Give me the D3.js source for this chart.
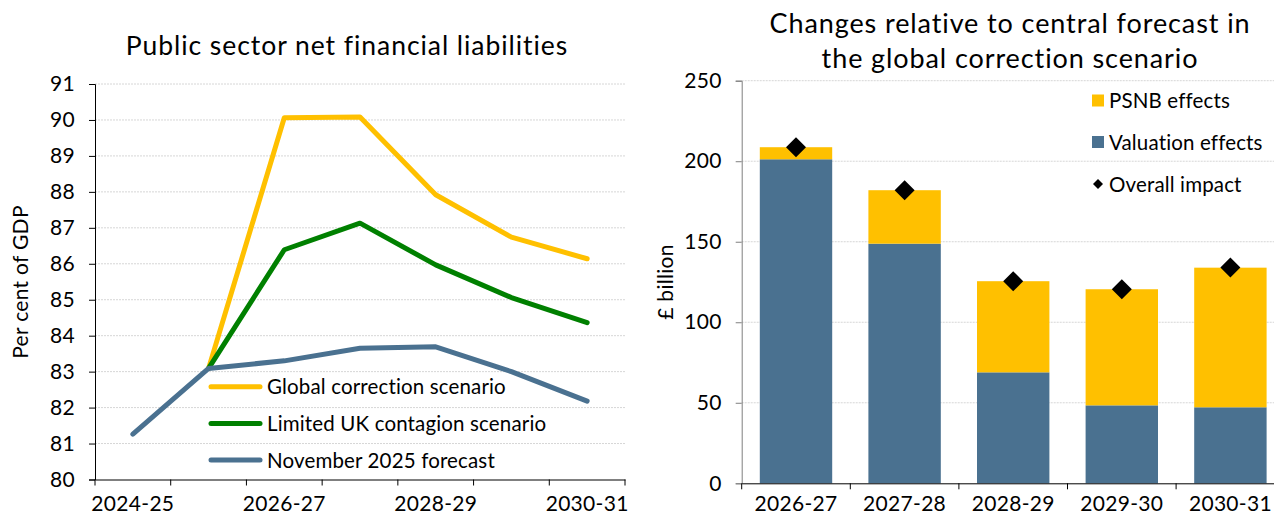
<!DOCTYPE html>
<html><head><meta charset="utf-8">
<script src="https://cdn.jsdelivr.net/npm/d3@7"></script>
<style>
html,body{margin:0;padding:0;background:#fff;}
svg{display:block;font-family:Lato,"Noto Sans",sans-serif;}
</style></head>
<body>
<svg id="c" width="1274" height="517"></svg>
<script>
// ---- Left chart data ----
const years = ["2024-25","2025-26","2026-27","2027-28","2028-29","2029-30","2030-31"];
const yearLabels = ["2024-25","2026-27","2028-29","2030-31"];
const globalCorrection = [null, 83.09, 90.06, 90.08, 87.92, 86.74, 86.14];
const limitedContagion = [null, 83.09, 86.39, 87.13, 85.97, 85.06, 84.36];
const november2025 = [81.26, 83.09, 83.30, 83.65, 83.69, 83.00, 82.18];
const leftTicks = [80,81,82,83,84,85,86,87,88,89,90,91];
const leftSeriesNames = ["Global correction scenario","Limited UK contagion scenario","November 2025 forecast"];

// ---- Right chart data ----
const barYears = ["2026-27","2027-28","2028-29","2029-30","2030-31"];
const valuationEffects = [201.2, 148.8, 68.9, 48.4, 47.2];
const psnbEffects = [7.5, 33.2, 56.6, 72.1, 86.7];
const overallImpact = [208.7, 182.0, 125.5, 120.5, 134.0];
const rightTicks = [0,50,100,150,200,250];
const rightLegendNames = ["PSNB effects","Valuation effects","Overall impact"];

const YEL = "#FFC000", GRN = "#008000", BLU = "#4A7190";
const svg = d3.select("#c");
const FS = 21;      // tick labels
const LFS = 20.5;   // legend text
const LS = "0.3px"; // letter spacing to approximate the wider original face
const XLAB_BASE = 511; // baseline of x tick labels

// ================= LEFT =================
const L = {x0:95, x1:625, yTop:84, yBot:479.5};
const xL = d3.scaleBand().domain(years).range([L.x0, L.x1]).padding(0);
const yL = d3.scaleLinear().domain([80,91]).range([L.yBot, L.yTop]);
const gL = svg.append("g");

gL.selectAll("line.grid").data(leftTicks.filter(d=>d>80)).join("line")
  .attr("x1", L.x0).attr("x2", L.x1).attr("y1", d=>yL(d)).attr("y2", d=>yL(d))
  .attr("stroke", "#d6d6d6").attr("stroke-width", 1).attr("stroke-dasharray", "2,1");

const yAxL = gL.append("g").attr("transform", `translate(${L.x0},0)`)
  .call(d3.axisLeft(yL).tickValues(leftTicks).tickSize(6).tickPadding(14).tickFormat(d3.format("d")));
yAxL.select(".domain").attr("stroke", "#000");
yAxL.selectAll(".tick line").attr("stroke", "#000");
yAxL.selectAll("text").attr("font-size", FS).attr("fill", "#000").attr("font-family", "Lato").attr("letter-spacing", LS);

const xAxL = gL.append("g").attr("transform", `translate(0,${L.yBot})`)
  .call(d3.axisBottom(xL).tickSize(0).tickFormat(d => yearLabels.includes(d) ? d : ""));
xAxL.select(".domain").attr("stroke", "#000");
xAxL.selectAll("text").attr("font-size", FS).attr("fill", "#000").attr("font-family", "Lato")
  .attr("letter-spacing", LS).attr("y", XLAB_BASE - L.yBot).attr("dy", 0);
const bL = years.map(d=>xL(d)).concat([xL(years[years.length-1]) + xL.bandwidth()]);
gL.selectAll("line.xt").data(bL).join("line")
  .attr("x1", d=>d).attr("x2", d=>d).attr("y1", L.yBot).attr("y2", L.yBot+6).attr("stroke", "#000");

const lineGen = d3.line().defined(d=>d.v!=null).x(d=>xL(d.k)+xL.bandwidth()/2).y(d=>yL(d.v));
const seriesL = [
  {vals: globalCorrection, c: YEL},
  {vals: limitedContagion, c: GRN},
  {vals: november2025, c: BLU}
];
seriesL.forEach(s => {
  gL.append("path").datum(years.map((k,i)=>({k, v:s.vals[i]})))
    .attr("d", lineGen).attr("fill","none").attr("stroke", s.c)
    .attr("stroke-width", 5).attr("stroke-linejoin","round").attr("stroke-linecap","round");
});

const legL = gL.append("g");
leftSeriesNames.forEach((n,i) => {
  const y = 386.7 + i*36.7;
  legL.append("line").attr("x1", 211).attr("x2", 260).attr("y1", y).attr("y2", y)
    .attr("stroke", seriesL[i].c).attr("stroke-width", 5).attr("stroke-linecap","round");
  legL.append("text").attr("x", 267).attr("y", y + 7.5)
    .attr("font-size", LFS).attr("letter-spacing", "0.15px").attr("fill","#000").text(n);
});

svg.append("text").attr("x", 347).attr("y", 55).attr("text-anchor","middle")
  .attr("font-size", 26.5).attr("letter-spacing", "0.95px").attr("fill","#000").text("Public sector net financial liabilities");
svg.append("text").attr("transform", "translate(21,282) rotate(-90)").attr("text-anchor","middle")
  .attr("dy","0.35em").attr("font-size", 21).attr("letter-spacing", LS).attr("fill","#000").text("Per cent of GDP");

// ================= RIGHT =================
const R = {x0:741.7, x1:1284.7, yTop:80.7, yBot:483.3};
const xR = d3.scaleBand().domain(barYears).range([R.x0, R.x1]).paddingInner(1/3).paddingOuter(1/6);
const yR = d3.scaleLinear().domain([0,250]).range([R.yBot, R.yTop]);
const gR = svg.append("g");

gR.selectAll("line.grid").data(rightTicks.filter(d=>d>0)).join("line")
  .attr("x1", R.x0).attr("x2", 1274).attr("y1", d=>yR(d)).attr("y2", d=>yR(d))
  .attr("stroke", "#d6d6d6").attr("stroke-width", 1).attr("stroke-dasharray", "2,1");

const yAxR = gR.append("g").attr("transform", `translate(${R.x0},0)`)
  .call(d3.axisLeft(yR).tickValues(rightTicks).tickSize(6).tickPadding(14).tickFormat(d3.format("d")));
yAxR.select(".domain").attr("stroke", "#7f7f7f");
yAxR.selectAll(".tick line").attr("stroke", "#7f7f7f");
yAxR.selectAll("text").attr("font-size", FS).attr("fill", "#000").attr("font-family", "Lato").attr("letter-spacing", LS);

const stackData = barYears.map((k,i)=>({k, val: valuationEffects[i], psnb: psnbEffects[i], tot: overallImpact[i]}));
gR.selectAll("rect.val").data(stackData).join("rect")
  .attr("x", d=>xR(d.k)).attr("width", xR.bandwidth())
  .attr("y", d=>yR(d.val)).attr("height", d=>yR(0)-yR(d.val)).attr("fill", BLU);
gR.selectAll("rect.psnb").data(stackData).join("rect")
  .attr("x", d=>xR(d.k)).attr("width", xR.bandwidth())
  .attr("y", d=>yR(d.val+d.psnb)).attr("height", d=>yR(d.val)-yR(d.val+d.psnb)).attr("fill", YEL);

const xAxR = gR.append("g").attr("transform", `translate(0,${R.yBot})`)
  .call(d3.axisBottom(xR).tickSize(0));
xAxR.select(".domain").attr("stroke", "#000");
xAxR.selectAll("text").attr("font-size", FS).attr("fill", "#000").attr("font-family", "Lato")
  .attr("letter-spacing", LS).attr("y", XLAB_BASE - R.yBot).attr("dy", 0);
const step = xR.step();
const bR = barYears.map(d=>xR(d) - step*(1/6)).concat([xR(barYears[barYears.length-1]) + xR.bandwidth() + step/6]);
gR.selectAll("line.xt").data(bR).join("line")
  .attr("x1", d=>d).attr("x2", d=>d).attr("y1", R.yBot).attr("y2", R.yBot+6).attr("stroke", "#000");

gR.selectAll("path.dia").data(stackData).join("path")
  .attr("d", d3.symbol().type(d3.symbolSquare).size(200))
  .attr("transform", d=>`translate(${xR(d.k)+xR.bandwidth()/2},${yR(d.tot)}) rotate(45)`)
  .attr("fill", "#000");

const legR = gR.append("g");
const legY = [100.5, 142, 184];
legR.append("rect").attr("x", 1092).attr("y", legY[0]-6).attr("width", 12).attr("height", 12).attr("fill", YEL);
legR.append("rect").attr("x", 1092).attr("y", legY[1]-6).attr("width", 12).attr("height", 12).attr("fill", BLU);
legR.append("path").attr("d", d3.symbol().type(d3.symbolSquare).size(50))
  .attr("transform", `translate(1098,${legY[2]}) rotate(45)`).attr("fill","#000");
rightLegendNames.forEach((n,i)=>{
  legR.append("text").attr("x", 1109).attr("y", legY[i] + 7.5)
    .attr("font-size", LFS).attr("letter-spacing", "0.15px").attr("fill","#000").text(n);
});

const tR = svg.append("text").attr("text-anchor","middle").attr("font-size", 27)
  .attr("letter-spacing", "0.9px").attr("fill","#000");
tR.append("tspan").attr("x", 1010).attr("y", 33).text("Changes relative to central forecast in");
tR.append("tspan").attr("x", 1010).attr("y", 68).text("the global correction scenario");
svg.append("text").attr("transform", "translate(666,282) rotate(-90)").attr("text-anchor","middle")
  .attr("dy","0.35em").attr("font-size", 21).attr("letter-spacing", LS).attr("fill","#000").text("£ billion");
</script>
</body></html>
